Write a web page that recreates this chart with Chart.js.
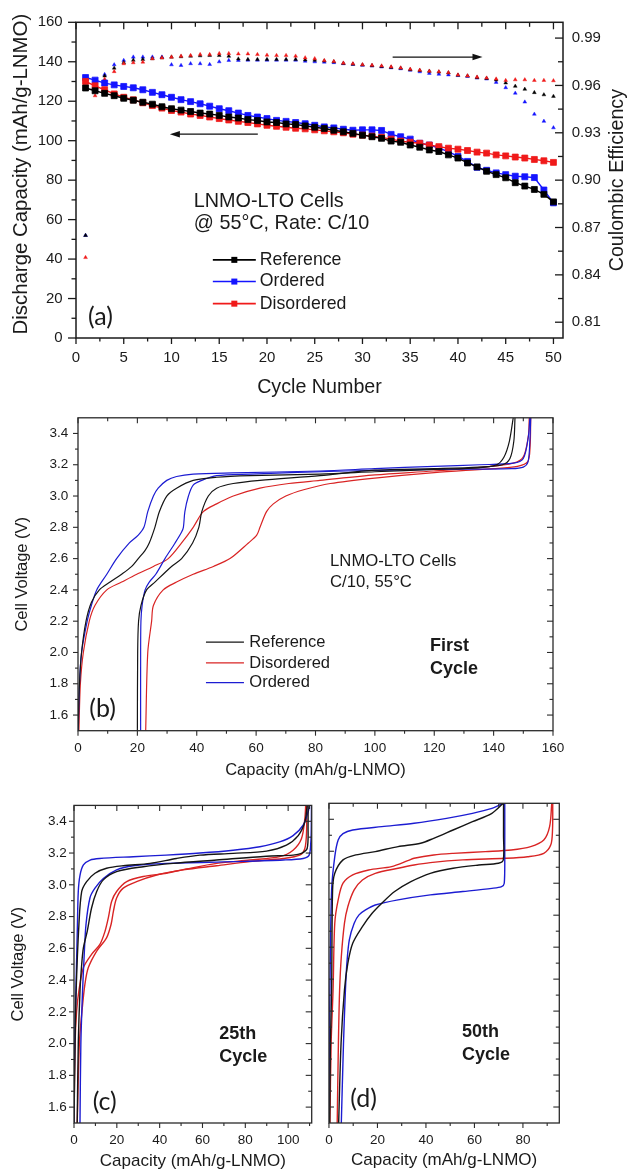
<!DOCTYPE html>
<html><head><meta charset="utf-8">
<script src="https://cdn.jsdelivr.net/npm/chart.js@4.4.1/dist/chart.umd.min.js"></script>
<style>
html,body{margin:0;padding:0;background:#fff;}
#wrap{position:relative;width:629px;height:1173px;overflow:hidden;background:#fff;}
#wrap canvas{position:absolute;}
</style></head><body>
<div id="wrap">
<canvas id="ca" width="629" height="400" style="left:0;top:0"></canvas>
<canvas id="cb" width="629" height="390" style="left:0;top:400px"></canvas>
<canvas id="cc" width="316" height="383" style="left:0;top:790px"></canvas>
<canvas id="cd" width="313" height="383" style="left:316px;top:790px"></canvas>
</div>
<script>
// ---------------- Panel (a) data ----------------
const aCycles = [1,2,3,4,5,6,7,8,9,10,11,12,13,14,15,16,17,18,19,20,21,22,23,24,25,26,27,28,29,30,31,32,33,34,35,36,37,38,39,40,41,42,43,44,45,46,47,48,49,50];
const aRefCap = [126.7,125.3,124,122.8,121.5,120.5,119.5,118.5,117.2,116.2,115.5,114.8,114,113.5,112.8,112,111.5,110.7,110.2,109.5,109.2,108.5,108.2,107.5,106.8,106.2,105.3,104.5,103.7,102.8,102,101.2,99.8,99.2,97.8,96.7,95.3,94.5,92.8,91.2,88.7,86.7,84.5,82.8,81.2,78.7,77,75.3,72.8,69];
const aOrdCap = [132,130.7,129.2,128.3,127.5,126.8,125.8,124.5,123.3,122,120.8,119.8,118.7,117.5,116.2,115.2,114,112.8,112,111.2,110.3,109.8,109.2,108.6,107.8,107,106.5,105.8,105.3,105.5,105.5,105.2,103.2,102,100.8,98.7,97.8,96.2,94.5,92,89.5,86.5,85,83.7,82.8,82,81.7,81.3,75,68.5];
const aDisCap = [130,127.8,125.8,123.7,122,120.7,119.2,117.8,116.5,115.3,114.5,113.5,112.8,112,111.2,110.5,109.8,109.2,108.5,107.8,107.3,106.8,106.3,106,105.5,105,104.5,104,103.3,102.8,102.3,101.7,100.8,99.8,99.2,98.7,97.8,97,96.2,95.7,95,94.2,93.7,92.8,92.3,91.7,91.2,90.5,89.8,89];
const aRefEff = [0.865,0.957,0.966,0.971,0.9745,0.976,0.9765,0.977,0.9775,0.978,0.9782,0.9785,0.9788,0.979,0.979,0.9785,0.9768,0.9765,0.9765,0.9765,0.9765,0.9765,0.9765,0.9762,0.976,0.9755,0.975,0.974,0.9735,0.973,0.9725,0.972,0.9715,0.971,0.970,0.9695,0.969,0.9685,0.968,0.9665,0.966,0.965,0.9645,0.9635,0.9616,0.9595,0.9576,0.9555,0.9541,0.9531];
const aOrdEff = [0.865,0.958,0.967,0.9731,0.9759,0.978,0.978,0.978,0.978,0.9731,0.9727,0.9738,0.9738,0.9733,0.975,0.9759,0.9759,0.976,0.976,0.976,0.976,0.976,0.976,0.9754,0.975,0.9748,0.9745,0.9738,0.9734,0.9728,0.9724,0.9718,0.9712,0.9706,0.9697,0.9687,0.9677,0.9671,0.9667,0.9663,0.9657,0.9647,0.9641,0.962,0.9586,0.9551,0.9495,0.9418,0.9373,0.9332];
const aDisEff = [0.851,0.9535,0.964,0.9688,0.9738,0.9744,0.9748,0.9769,0.9775,0.978,0.9786,0.979,0.9796,0.9796,0.9802,0.9802,0.98,0.98,0.9796,0.9792,0.979,0.979,0.9786,0.9775,0.977,0.9758,0.9752,0.9742,0.9738,0.9732,0.9728,0.9724,0.9718,0.9711,0.9703,0.9697,0.9691,0.9687,0.9681,0.9667,0.9661,0.9653,0.9647,0.9641,0.9632,0.9636,0.9636,0.9632,0.9632,0.963];
const aCycleTicks = [0,5,10,15,20,25,30,35,40,45,50];
const aCapTicks = [0,20,40,60,80,100,120,140,160];
const aEffTicks = [0.81,0.84,0.87,0.90,0.93,0.96,0.99];

// ---------------- Panel (b) first cycle ----------------
const bRefCharge = [[0,1.5],[0.5,1.8],[1.2,2.0],[2.7,2.2],[4.5,2.32],[7.2,2.4],[10.8,2.45],[14.7,2.5],[18.1,2.55],[20.3,2.6],[22.5,2.65],[24,2.7],[25.9,2.8],[27.4,2.9],[29.9,3.0],[33.2,3.05],[38.8,3.1],[46.7,3.12],[58,3.13],[81.5,3.14],[100,3.155],[120,3.17],[135,3.18],[141,3.2],[143.5,3.25],[145.3,3.35],[146.6,3.5]];
const bRefDischarge = [[147.2,3.5],[146.8,3.35],[145.5,3.24],[143,3.2],[135,3.185],[120,3.175],[100,3.165],[81.5,3.13],[61.3,3.1],[52.3,3.08],[46.7,3.05],[43.9,3.0],[41.7,2.9],[40.7,2.8],[38.6,2.7],[34.9,2.6],[31.5,2.55],[28.7,2.5],[25.9,2.45],[23.1,2.4],[21.2,2.3],[20.4,2.2],[20.1,2.0],[20,1.5]];
const bOrdCharge = [[0.1,1.5],[0.5,1.8],[1.2,2.0],[3.1,2.2],[4.5,2.3],[6.3,2.4],[9.7,2.5],[13,2.6],[17.3,2.7],[20.3,2.75],[22.2,2.8],[23.5,2.9],[25.4,3.0],[27,3.05],[29.9,3.1],[33.2,3.125],[38.8,3.14],[52,3.148],[81.5,3.16],[100,3.175],[120,3.19],[135.4,3.2],[146.6,3.21],[150,3.24],[151.7,3.38],[152.2,3.5]];
const bOrdDischarge = [[152.5,3.5],[152.2,3.35],[151.6,3.22],[150,3.185],[146,3.175],[120,3.17],[90,3.16],[58,3.14],[46.7,3.13],[41.7,3.1],[38.8,3.07],[37.2,3.0],[36,2.9],[35.5,2.8],[34.9,2.77],[32.7,2.7],[29.3,2.6],[26.2,2.5],[24,2.45],[22.6,2.4],[21.6,2.3],[21.2,2.2],[21.1,2.0],[21.1,1.5]];
const bDisCharge = [[0.3,1.5],[0.8,1.8],[1.8,2.0],[3.8,2.2],[5.7,2.3],[9.7,2.4],[14.7,2.45],[19.8,2.5],[25.4,2.55],[30.4,2.6],[34.9,2.7],[38.8,2.8],[42.2,2.9],[46.7,2.95],[52.3,3.0],[61.3,3.05],[71,3.08],[81.5,3.1],[100,3.135],[119.6,3.16],[136.4,3.185],[146.6,3.21],[150,3.25],[151.7,3.385],[152,3.5]];
const bDisDischarge = [[152.5,3.5],[152.3,3.32],[151.5,3.22],[148,3.19],[140,3.175],[120,3.15],[100,3.115],[85,3.08],[76,3.04],[70,3.0],[65.8,2.95],[63.5,2.9],[61.3,2.8],[60.2,2.75],[57.4,2.7],[51.2,2.6],[45.6,2.55],[38.8,2.5],[33.2,2.45],[28.7,2.4],[25.4,2.3],[24.8,2.2],[23.5,2.0],[22.8,1.5]];
const bCapTicks = [0,20,40,60,80,100,120,140,160];
const voltTicks = [1.6,1.8,2.0,2.2,2.4,2.6,2.8,3.0,3.2,3.4];

// ---------------- Panel (c) 25th cycle ----------------
const cRefCharge = [[0,1.5],[0.5,2.0],[1.0,2.333],[2.3,2.75],[3.6,2.958],[5.9,3.02],[9.8,3.073],[15.2,3.104],[23,3.12],[35.5,3.135],[47.9,3.166],[58.8,3.187],[74.3,3.198],[89.9,3.212],[99.2,3.25],[104.7,3.31],[107.8,3.395],[108.9,3.5]];
const cRefDischarge = [[109.3,3.5],[109.3,3.375],[108.9,3.23],[106.2,3.198],[102.3,3.187],[89.9,3.18],[66.6,3.156],[46.3,3.135],[32.3,3.114],[19.9,3.083],[13.7,3.031],[10.6,2.958],[8.2,2.854],[6.2,2.708],[4.4,2.604],[3.6,2.5],[2.8,2.333],[2.0,2.0],[1.5,1.5]];
const cOrdCharge = [[0,1.5],[0.3,2.0],[0.9,2.333],[1.6,2.75],[2,2.958],[2.8,3.06],[4.4,3.125],[7.5,3.156],[12,3.166],[27.7,3.177],[43,3.187],[58.8,3.2],[74.3,3.218],[86.8,3.24],[96,3.27],[102.3,3.31],[107,3.375],[109.3,3.458],[110,3.5]];
const cOrdDischarge = [[110.9,3.5],[110.8,3.35],[110.6,3.27],[109.8,3.187],[107,3.166],[97.7,3.156],[74.3,3.146],[43.2,3.135],[27.7,3.12],[19.9,3.094],[13.7,3.04],[9.8,2.979],[7.5,2.92],[5.6,2.75],[4.7,2.54],[4,2.333],[3.2,2.0],[2.8,1.5]];
const cDisCharge = [[0,1.5],[0.5,2.0],[1.2,2.2],[2.3,2.333],[4.4,2.479],[8.2,2.562],[12.1,2.625],[14.5,2.708],[16,2.79],[17.6,2.896],[19.9,2.958],[24.6,3.02],[32.3,3.052],[43.2,3.073],[52.6,3.1],[66.6,3.135],[82.1,3.156],[96.1,3.177],[102.3,3.218],[106.2,3.29],[107.8,3.416],[108.2,3.5]];
const cDisDischarge = [[108.6,3.5],[108.6,3.333],[107.8,3.229],[105.4,3.187],[97.7,3.166],[82.1,3.146],[66.6,3.12],[51,3.094],[38.6,3.062],[29.2,3.02],[23,2.979],[19.9,2.917],[18.4,2.833],[17.3,2.75],[15.2,2.666],[10.6,2.583],[6.7,2.479],[5.1,2.375],[3.7,2.2],[2.5,2.0],[1.5,1.5]];
const cCapTicks = [0,20,40,60,80,100];

// ---------------- Panel (d) 50th cycle ----------------
const dOrdCharge = [[0,1.5],[0.2,2.0],[0.4,2.333],[1.1,2.958],[2.4,3.166],[3.8,3.27],[5.8,3.31],[9.8,3.333],[21.8,3.354],[35.1,3.375],[48.5,3.406],[59.2,3.437],[67.2,3.468],[71.9,3.5]];
const dOrdDischarge = [[72.5,3.5],[72.5,3.2],[72.3,3.0],[71.2,2.979],[67.2,2.968],[55.2,2.948],[41.8,2.927],[28.5,2.896],[19.1,2.864],[15.1,2.833],[12.4,2.802],[10.4,2.75],[8.4,2.646],[7.4,2.5],[6.8,2.333],[6.0,2.0],[5.1,1.5]];
const dRefCharge = [[0.3,1.5],[0.6,2.0],[1.1,2.333],[1.5,2.958],[2.4,3.062],[5.8,3.146],[11.1,3.177],[19.1,3.198],[28.5,3.229],[37.8,3.25],[43.2,3.281],[51.2,3.333],[59.2,3.385],[67.2,3.437],[71.9,3.5]];
const dRefDischarge = [[72,3.5],[72,3.3],[71.9,3.146],[69.9,3.125],[61.8,3.114],[51.2,3.094],[41.8,3.062],[33.8,3.01],[27.1,2.948],[21.8,2.875],[17.8,2.812],[13.8,2.729],[9.8,2.625],[7.8,2.5],[6.4,2.333],[5,2.0],[4,1.5]];
const dDisCharge = [[0.4,1.5],[0.9,2.0],[1.7,2.333],[2.4,2.75],[3.8,2.896],[5.8,3.0],[9.8,3.052],[16.4,3.083],[25.8,3.104],[32.5,3.141],[35.1,3.156],[43.2,3.177],[51.2,3.187],[64.5,3.198],[75.2,3.208],[83.2,3.229],[88.6,3.27],[91,3.354],[91.9,3.5]];
const dDisDischarge = [[92.3,3.5],[92.2,3.333],[91.5,3.24],[88.6,3.187],[81.9,3.166],[72.5,3.156],[55.2,3.146],[41.8,3.129],[35.1,3.114],[28.5,3.094],[19.1,3.062],[13.8,3.02],[10.4,2.958],[7.8,2.854],[6.4,2.75],[5.1,2.541],[4.4,2.333],[3.9,2.0],[3.4,1.5]];
const dCapTicks = [0,20,40,60,80];

// ---------------- helpers ----------------
const FONT = "'Liberation Sans', Arial, Helvetica, sans-serif";
const PFONT = "Lato, 'Open Sans', sans-serif";
const TXT = '#1a1a1a';
const BLACK = '#000000', BLUE = '#1414ff', RED = '#f01a1a';
const CBLACK = '#151515', CBLUE = '#1c1cd2', CRED = '#d92424';
Chart.defaults.font.family = FONT;

function minorsOf(major, min, max) {
  const step = major[1] - major[0], out = [];
  for (let v = major[0] - step / 2; v <= max + 1e-9; v += step) {
    if (v > min + 1e-6 && v < max - 1e-6) out.push(+v.toFixed(6));
  }
  return out;
}
function axis(o) {
  return {
    type: 'linear', position: o.position, min: o.min, max: o.max,
    afterBuildTicks: s => { s.ticks = o.ticks.map(v => ({ value: v })); },
    afterFit: o.horizontal ? (s => { s.height = o.size; }) : (s => { s.width = o.size; }),
    grid: { display: false, drawTicks: false },
    border: { display: false },
    ticks: {
      display: o.showLabels !== false, padding: o.pad || 0, autoSkip: false, maxRotation: 0, minRotation: 0,
      color: TXT, font: { family: FONT, size: o.fontSize || 12 },
      callback: v => (o.decimals != null ? Number(v).toFixed(o.decimals) : String(v))
    },
    title: o.title ? { display: true, text: o.title, color: TXT, font: { family: FONT, size: o.titleSize }, padding: o.titlePad } : { display: false }
  };
}
function framePlugin(cfg) {
  return {
    id: 'frame',
    afterDatasetsDraw(chart) {
      const ctx = chart.ctx, a = chart.chartArea;
      ctx.save();
      ctx.strokeStyle = cfg.color;
      ctx.lineWidth = cfg.tickWidth;
      for (const sd of cfg.sides) {
        const sc = chart.scales[sd.scale];
        const one = (v, len) => {
          const p = sc.getPixelForValue(v);
          ctx.beginPath();
          if (sd.pos === 'left') { ctx.moveTo(a.left, p); ctx.lineTo(a.left + (sd.dir === 'out' ? -len : len), p); }
          if (sd.pos === 'right') { ctx.moveTo(a.right, p); ctx.lineTo(a.right + (sd.dir === 'out' ? len : -len), p); }
          if (sd.pos === 'top') { ctx.moveTo(p, a.top); ctx.lineTo(p, a.top + (sd.dir === 'out' ? -len : len)); }
          if (sd.pos === 'bottom') { ctx.moveTo(p, a.bottom); ctx.lineTo(p, a.bottom + (sd.dir === 'out' ? len : -len)); }
          ctx.stroke();
        };
        sd.major.forEach(v => one(v, sd.ml));
        sd.minor.forEach(v => one(v, sd.nl));
      }
      ctx.lineWidth = cfg.width;
      ctx.strokeRect(a.left, a.top, a.right - a.left, a.bottom - a.top);
      ctx.restore();
    }
  };
}
function annPlugin(items) {
  return {
    id: 'ann',
    afterDraw(chart) {
      const ctx = chart.ctx;
      ctx.save();
      for (const it of items) {
        const xs = chart.scales[it.xs || 'x'], ys = chart.scales[it.ys || 'y'];
        if (it.kind === 'text') {
          ctx.font = (it.weight || 'normal') + ' ' + it.size + 'px ' + (it.family || FONT);
          ctx.fillStyle = it.color || TXT;
          ctx.textAlign = it.align || 'left';
          ctx.textBaseline = 'middle';
          ctx.fillText(it.text, xs.getPixelForValue(it.x), ys.getPixelForValue(it.y));
        } else if (it.kind === 'vtext') {
          const a = chart.chartArea;
          ctx.font = it.size + 'px ' + FONT;
          ctx.fillStyle = TXT;
          ctx.textAlign = 'center';
          ctx.textBaseline = 'middle';
          const bx = it.side === 'left' ? it.dx : a.right + it.dx;
          ctx.translate(bx, (a.top + a.bottom) / 2 + (it.dy || 0));
          ctx.rotate(-Math.PI / 2);
          ctx.fillText(it.text, 0, 0);
          ctx.setTransform(1, 0, 0, 1, 0, 0);
        } else if (it.kind === 'arrow') {
          const x1 = xs.getPixelForValue(it.x1), x2 = xs.getPixelForValue(it.x2), y = ys.getPixelForValue(it.y);
          const dir = x2 > x1 ? 1 : -1;
          ctx.strokeStyle = '#111'; ctx.fillStyle = '#111'; ctx.lineWidth = 1.3;
          ctx.beginPath(); ctx.moveTo(x1, y); ctx.lineTo(x2 - dir * 8, y); ctx.stroke();
          ctx.beginPath(); ctx.moveTo(x2, y); ctx.lineTo(x2 - dir * 10, y - 3.2); ctx.lineTo(x2 - dir * 10, y + 3.2); ctx.closePath(); ctx.fill();
        } else if (it.kind === 'legend') {
          const x1 = xs.getPixelForValue(it.x1), x2 = xs.getPixelForValue(it.x2), y = ys.getPixelForValue(it.y);
          ctx.strokeStyle = it.color; ctx.lineWidth = it.lw;
          ctx.beginPath(); ctx.moveTo(x1, y); ctx.lineTo(x2, y); ctx.stroke();
          if (it.marker) { ctx.fillStyle = it.color; const m = (x1 + x2) / 2; ctx.fillRect(m - 3, y - 3, 6, 6); }
          ctx.font = it.size + 'px ' + FONT; ctx.fillStyle = TXT; ctx.textAlign = 'left'; ctx.textBaseline = 'middle';
          ctx.fillText(it.text, xs.getPixelForValue(it.tx), y);
        }
      }
      ctx.restore();
    }
  };
}
const pts = (xs, ys) => xs.map((x, i) => ({ x: x, y: ys[i] }));
const pairs = arr => arr.map(p => ({ x: p[0], y: p[1] }));
function capDs(label, vals, color) {
  return { label: label, data: pts(aCycles, vals), yAxisID: 'y', showLine: true, borderColor: color, backgroundColor: color,
    borderWidth: 1.4, pointStyle: 'rect', pointRadius: 4.2, pointBorderWidth: 0.8, pointBorderColor: color, pointBackgroundColor: color };
}
function effDs(label, vals, color) {
  return { label: label, data: pts(aCycles, vals), yAxisID: 'y1', showLine: false, borderColor: color, backgroundColor: color,
    pointStyle: 'triangle', pointRadius: 2.2, pointBorderWidth: 0.4, pointBorderColor: color, pointBackgroundColor: color };
}
function curve(label, arr, color, w) {
  return { label: label, data: pairs(arr), showLine: true, borderColor: color, backgroundColor: color, borderWidth: w,
    pointRadius: 0, pointHoverRadius: 0, tension: 0.3, fill: false };
}
const base = { responsive: false, maintainAspectRatio: false, animation: false, events: [],
  plugins: { legend: { display: false }, tooltip: { enabled: false } } };

// ---------------- Chart (a) ----------------
new Chart(document.getElementById('ca'), {
  type: 'scatter',
  data: { datasets: [
    capDs('Reference', aRefCap, BLACK),
    capDs('Disordered', aDisCap, RED),
    capDs('Ordered', aOrdCap, BLUE),
    effDs('Disordered CE', aDisEff, RED),
    effDs('Reference CE', aRefEff, BLACK),
    effDs('Ordered CE', aOrdEff, BLUE)
  ] },
  options: Object.assign({}, base, {
    layout: { padding: { top: 19, left: 0, right: 0, bottom: 0 } },
    scales: {
      x: axis({ position: 'bottom', min: 0, max: 51, ticks: aCycleTicks, horizontal: true, size: 62, pad: 11, fontSize: 15,
        title: 'Cycle Number', titleSize: 19.7, titlePad: { top: 0, bottom: 1 } }),
      y: axis({ position: 'left', min: 0, max: 160, ticks: aCapTicks, size: 76, pad: 13.3, fontSize: 15 }),
      y1: axis({ position: 'right', min: 0.8, max: 1.0, ticks: aEffTicks, size: 66, pad: 8.7, fontSize: 15, decimals: 2 })
    }
  }),
  plugins: [
    framePlugin({ color: '#1a1a1a', width: 1.5, tickWidth: 1.3, sides: [
      { pos: 'left', scale: 'y', dir: 'out', major: aCapTicks, minor: minorsOf(aCapTicks, 0, 160), ml: 8, nl: 4.5 },
      { pos: 'bottom', scale: 'x', dir: 'out', major: aCycleTicks, minor: minorsOf(aCycleTicks, 0, 51), ml: 6, nl: 3.5 },
      { pos: 'top', scale: 'x', dir: 'in', major: aCycleTicks, minor: minorsOf(aCycleTicks, 0, 51), ml: 7, nl: 4.5 },
      { pos: 'right', scale: 'y1', dir: 'in', major: aEffTicks, minor: minorsOf(aEffTicks, 0.8, 1.0), ml: 8, nl: 5 }
    ] }),
    annPlugin([
      { kind: 'text', text: 'LNMO-LTO Cells', x: 12.34, y: 69.2, size: 19.8 },
      { kind: 'text', text: '@ 55°C, Rate: C/10', x: 12.34, y: 58.2, size: 19.8 },
      { kind: 'legend', text: 'Reference', color: BLACK, lw: 1.6, marker: true, x1: 14.33, x2: 18.83, tx: 19.25, y: 39.6, size: 17.7 },
      { kind: 'legend', text: 'Ordered', color: BLUE, lw: 1.6, marker: true, x1: 14.33, x2: 18.83, tx: 19.25, y: 28.6, size: 17.7 },
      { kind: 'legend', text: 'Disordered', color: RED, lw: 1.6, marker: true, x1: 14.33, x2: 18.83, tx: 19.25, y: 17.4, size: 17.7 },
      { kind: 'text', text: '(a)', x: 1.26, y: 10.5, size: 25, family: PFONT },
      { kind: 'arrow', x1: 19.04, x2: 9.83, y: 103.3 },
      { kind: 'arrow', x1: 33.16, x2: 42.57, y: 142.4 },
      { kind: 'vtext', side: 'left', text: 'Discharge Capacity (mAh/g-LNMO)', dx: 21, dy: -6, size: 20.4 },
      { kind: 'vtext', side: 'right', text: 'Coulombic Efficiency', dx: 54.5, size: 19.7 }
    ])
  ]
});

// ---------------- Charts (b)-(d) ----------------
function voltChart(id, datasets, o) {
  const y = axis({ position: 'left', min: 1.5, max: 3.5, ticks: voltTicks, size: o.ySize, pad: o.yPad, fontSize: o.tickSize, decimals: 1,
    showLabels: o.yLabels, title: o.yTitle, titleSize: o.yTitleSize, titlePad: { top: o.yTitlePad, bottom: 0 } });
  const x = axis({ position: 'bottom', min: 0, max: o.xMax, ticks: o.xTicks, horizontal: true, size: o.xSize, pad: o.xPad, fontSize: o.tickSize,
    title: 'Capacity (mAh/g-LNMO)', titleSize: o.xTitleSize, titlePad: { top: 0, bottom: o.xTitlePad } });
  const xMinor = minorsOf(o.xTicks, 0, o.xMax), yMinor = minorsOf(voltTicks, 1.5, 3.5);
  new Chart(document.getElementById(id), {
    type: 'scatter',
    data: { datasets: datasets },
    options: Object.assign({}, base, { layout: { padding: o.padding }, scales: { x: x, y: y } }),
    plugins: [
      framePlugin({ color: '#2a2a2a', width: 1.3, tickWidth: 1.1, sides: [
        { pos: 'left', scale: 'y', dir: o.leftDir, major: voltTicks, minor: yMinor, ml: 5, nl: 3 },
        { pos: 'right', scale: 'y', dir: 'in', major: voltTicks, minor: yMinor, ml: 6, nl: 3.5 },
        { pos: 'top', scale: 'x', dir: 'in', major: o.xTicks, minor: xMinor, ml: 5.5, nl: 3.5 },
        { pos: 'bottom', scale: 'x', dir: 'out', major: o.xTicks, minor: xMinor, ml: 5, nl: 3 }
      ] }),
      annPlugin(o.ann)
    ]
  });
}

voltChart('cb', [
  curve('Reference charge', bRefCharge, CBLACK, 1.2),
  curve('Reference discharge', bRefDischarge, CBLACK, 1.2),
  curve('Ordered charge', bOrdCharge, CBLUE, 1.2),
  curve('Ordered discharge', bOrdDischarge, CBLUE, 1.2),
  curve('Disordered charge', bDisCharge, CRED, 1.2),
  curve('Disordered discharge', bDisDischarge, CRED, 1.2)
], {
  padding: { top: 12, left: 0, right: 76, bottom: 0 }, xMax: 160, xTicks: bCapTicks,
  ySize: 78, yPad: 9.7, tickSize: 13.5, yLabels: true, yTitle: 'Cell Voltage (V)', yTitleSize: 16.5, yTitlePad: 12.3,
  xSize: 59.3, xPad: 9.2, xTitleSize: 16.5, xTitlePad: 10, leftDir: 'out',
  ann: [
    { kind: 'text', text: 'LNMO-LTO Cells', x: 84.9, y: 2.584, size: 16.7 },
    { kind: 'text', text: 'C/10, 55°C', x: 84.9, y: 2.446, size: 16.7 },
    { kind: 'legend', text: 'Reference', color: CBLACK, lw: 1.3, x1: 43.1, x2: 55.9, tx: 57.7, y: 2.066, size: 16.5 },
    { kind: 'legend', text: 'Disordered', color: CRED, lw: 1.3, x1: 43.1, x2: 55.9, tx: 57.7, y: 1.933, size: 16.5 },
    { kind: 'legend', text: 'Ordered', color: CBLUE, lw: 1.3, x1: 43.1, x2: 55.9, tx: 57.7, y: 1.807, size: 16.5 },
    { kind: 'text', text: 'First', x: 118.6, y: 2.038, size: 18, weight: 'bold' },
    { kind: 'text', text: 'Cycle', x: 118.6, y: 1.893, size: 18, weight: 'bold' },
    { kind: 'text', text: '(b)', x: 3.8, y: 1.636, size: 25, family: PFONT }
  ]
});

voltChart('cc', [
  curve('Reference charge', cRefCharge, CBLACK, 1.4),
  curve('Reference discharge', cRefDischarge, CBLACK, 1.4),
  curve('Ordered charge', cOrdCharge, CBLUE, 1.4),
  curve('Ordered discharge', cOrdDischarge, CBLUE, 1.4),
  curve('Disordered charge', cDisCharge, CRED, 1.4),
  curve('Disordered discharge', cDisDischarge, CRED, 1.4)
], {
  padding: { top: 13.3, left: 0, right: 4.3, bottom: 0 }, xMax: 111, xTicks: cCapTicks,
  ySize: 74, yPad: 7.3, tickSize: 13.5, yLabels: true, yTitle: 'Cell Voltage (V)', yTitleSize: 16.5, yTitlePad: 8.4,
  xSize: 50, xPad: 9.2, xTitleSize: 17, xTitlePad: 1, leftDir: 'out',
  ann: [
    { kind: 'text', text: '25th', x: 67.8, y: 2.058, size: 18, weight: 'bold' },
    { kind: 'text', text: 'Cycle', x: 67.8, y: 1.914, size: 18, weight: 'bold' },
    { kind: 'text', text: '(c)', x: 8.7, y: 1.633, size: 25, family: PFONT }
  ]
});

voltChart('cd', [
  curve('Reference charge', dRefCharge, CBLACK, 1.4),
  curve('Reference discharge', dRefDischarge, CBLACK, 1.4),
  curve('Ordered charge', dOrdCharge, CBLUE, 1.4),
  curve('Ordered discharge', dOrdDischarge, CBLUE, 1.4),
  curve('Disordered charge', dDisCharge, CRED, 1.4),
  curve('Disordered discharge', dDisDischarge, CRED, 1.4)
], {
  padding: { top: 13.3, left: 0, right: 69.7, bottom: 0 }, xMax: 95, xTicks: dCapTicks,
  ySize: 6.3, yPad: 0, tickSize: 13.5, yLabels: false, yTitle: null, yTitleSize: 16.5, yTitlePad: 0,
  xSize: 50, xPad: 9.2, xTitleSize: 17, xTitlePad: 2, leftDir: 'in',
  ann: [
    { kind: 'text', text: '50th', x: 54.9, y: 2.071, size: 18, weight: 'bold' },
    { kind: 'text', text: 'Cycle', x: 54.9, y: 1.927, size: 18, weight: 'bold' },
    { kind: 'text', text: '(d)', x: 8.8, y: 1.652, size: 25, family: PFONT }
  ]
});
</script>
</body></html>
